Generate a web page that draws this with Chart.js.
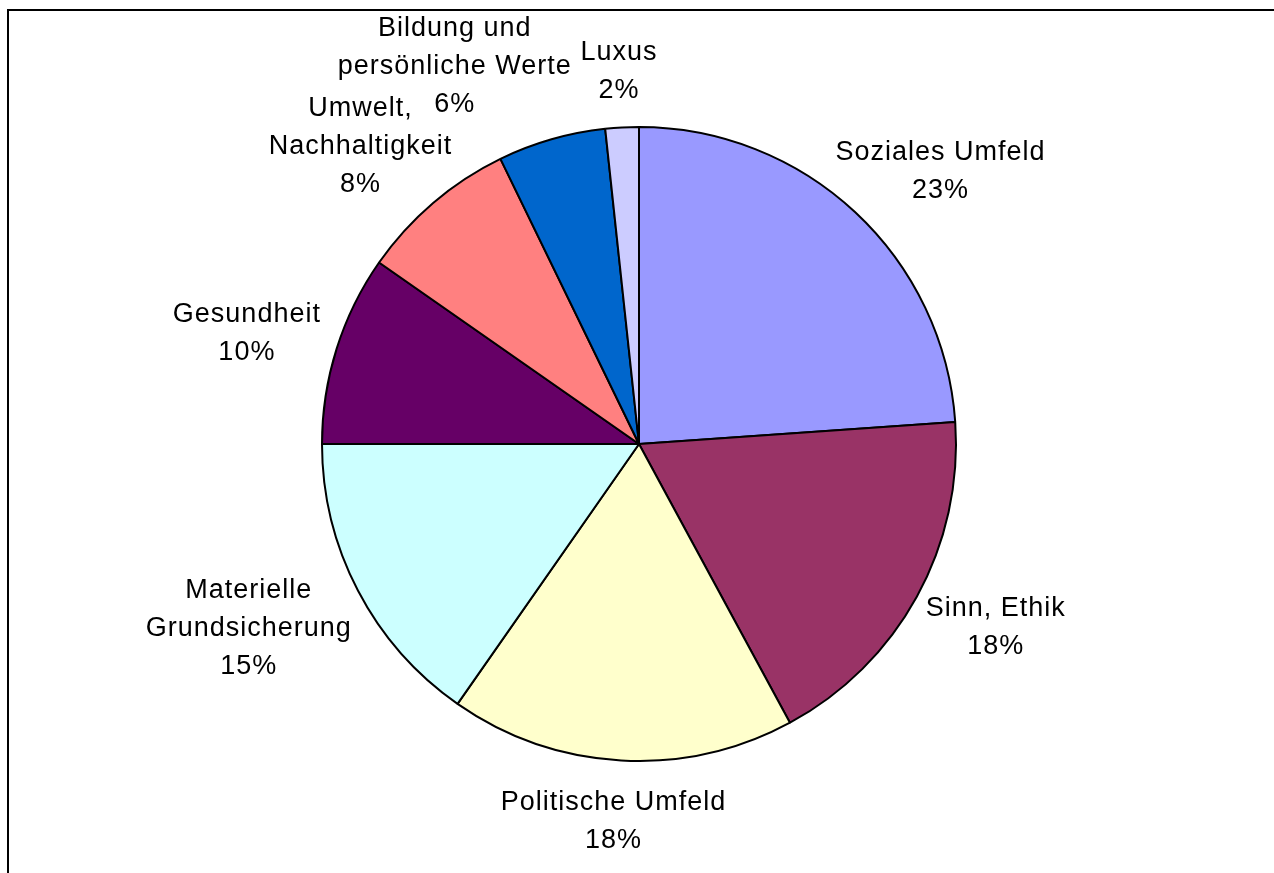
<!DOCTYPE html>
<html lang="de">
<head>
<meta charset="utf-8">
<title>Kreisdiagramm Werte</title>
<script src="https://cdn.jsdelivr.net/npm/chart.js@4.4.1/dist/chart.umd.min.js"></script>
<style>
    html, body { margin: 0; padding: 0; background: #fff; overflow: hidden; }
    #wrap { position: relative; width: 1274px; height: 873px; }
    #frame {
        position: absolute; left: 7px; top: 9px; width: 1400px; height: 1000px;
        border-left: 2px solid #000; border-top: 2px solid #000;
    }
    #pie { position: absolute; left: 0; top: 0; }
</style>
</head>
<body>
<div id="wrap">
    <div id="frame"></div>
    <canvas id="pie" width="1274" height="873"></canvas>
</div>
<script>
// Kategorien, Zeilenumbrüche wie im Original
const categories = [
    ['Soziales Umfeld'],
    ['Sinn, Ethik'],
    ['Politische Umfeld'],
    ['Materielle', 'Grundsicherung'],
    ['Gesundheit'],
    ['Umwelt,', 'Nachhaltigkeit'],
    ['Bildung und', 'persönliche Werte'],
    ['Luxus']
];

const shares = [23.9, 18.2, 17.6, 15.3, 9.7, 8.1, 5.5, 1.7];

// Prozentangaben wie beschriftet
const pctLabels = ['23%', '18%', '18%', '15%', '10%', '8%', '6%', '2%'];

const sliceColors = ['#9999FF', '#993366', '#FFFFCC', '#CCFFFF', '#660066', '#FF8080', '#0066CC', '#CCCCFF'];

// Beschriftungen außerhalb des Kreises, mit einfacher Kollisionsvermeidung
const outsideLabels = {
    id: 'outsideLabels',
    afterDatasetsDraw(chart) {
        const ctx = chart.ctx;
        const arcs = chart.getDatasetMeta(0).data;
        const fs = 27, lh = 38, capH = fs * 0.72, gap = 20, gapY = 10, pad = 4;

        ctx.save();
        ctx.font = fs + 'px "Liberation Sans", Arial, sans-serif';
        ctx.letterSpacing = '1px';
        ctx.fillStyle = '#000';
        ctx.textAlign = 'center';
        ctx.textBaseline = 'alphabetic';

        const placed = [];
        for (let i = arcs.length - 1; i >= 0; i--) {
            const p = arcs[i].getProps(['x', 'y', 'startAngle', 'endAngle', 'outerRadius'], true);
            const mid = (p.startAngle + p.endAngle) / 2;
            const ux = Math.cos(mid), uy = Math.sin(mid);
            const lines = chart.data.labels[i].concat(pctLabels[i]);
            const widths = lines.map(l => ctx.measureText(l).width);
            const halfW = Math.max(...widths) / 2;
            const halfH = ((lines.length - 1) * lh + capH) / 2;

            let cx = p.x + (p.outerRadius + gap + halfW) * ux;
            const cy = p.y + (p.outerRadius + gap + gapY + halfH) * uy;

            const lineY = k => cy + (k - (lines.length - 1) / 2) * lh;
            const rectsAt = x => lines.map((l, k) => ({
                x1: x - widths[k] / 2 - pad, x2: x + widths[k] / 2 + pad,
                y1: lineY(k) - capH / 2 - pad, y2: lineY(k) + capH / 2 + pad
            }));
            const hits = rs => placed.some(q => q.some(a => rs.some(b =>
                b.x1 < a.x2 && b.x2 > a.x1 && b.y1 < a.y2 && b.y2 > a.y1)));

            const dir = ux < 0 ? -1 : 1;
            let rects = rectsAt(cx), n = 0;
            while (hits(rects) && n++ < 400) {
                cx += dir;
                rects = rectsAt(cx);
            }
            placed.push(rects);

            lines.forEach((l, k) => ctx.fillText(l, cx, lineY(k) + capH / 2));
        }
        ctx.restore();
    }
};

new Chart(document.getElementById('pie'), {
    type: 'pie',
    data: {
        labels: categories,
        datasets: [{
            data: shares,
            backgroundColor: sliceColors,
            borderColor: '#000',
            borderWidth: 2,
            hoverOffset: 0,
            radius: 317
        }]
    },
    options: {
        responsive: false,
        animation: false,
        events: [],
        layout: { padding: { left: 4, top: 15, right: 0, bottom: 0 } },
        plugins: {
            legend: { display: false },
            tooltip: { enabled: false }
        }
    },
    plugins: [outsideLabels]
});
</script>
</body>
</html>
